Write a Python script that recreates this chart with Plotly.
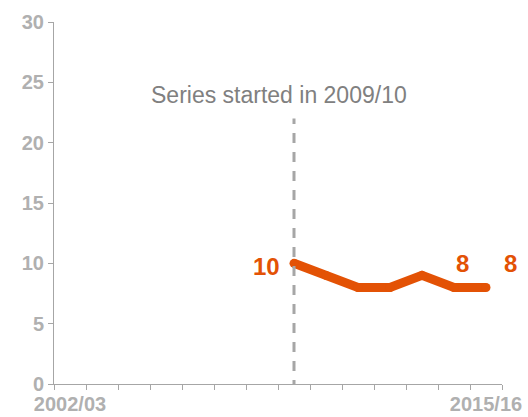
import plotly.graph_objects as go

categories = ["2002/03", "2003/04", "2004/05", "2005/06", "2006/07", "2007/08", "2008/09",
              "2009/10", "2010/11", "2011/12", "2012/13", "2013/14", "2014/15", "2015/16"]
values = [None, None, None, None, None, None, None, 10, 9, 8, 8, 9, 8, 8]
tick_text = ["2002/03"] + [""] * 12 + ["2015/16"]
series_start = "2009/10"
note = "Series started in 2009/10"

ORANGE = "#E35205"
GREY = "#A6A6A6"
LABEL = "#B0B0B0"
FONT = "Liberation Sans, Arial, sans-serif"

fig = go.Figure()
fig.add_trace(go.Scatter(x=categories, y=values, mode="lines+markers",
                         line=dict(color=ORANGE, width=9), connectgaps=False,
                         marker=dict(color=ORANGE, size=9, line=dict(width=0)),
                         hoverinfo="skip"))

fig.add_shape(type="line", xref="x", yref="y", x0=series_start, x1=series_start,
              y0=-0.5, y1=22.0, line=dict(color=GREY, width=3, dash="10px,9px"))

fig.add_annotation(x=series_start, y=23.95, text=note, showarrow=False, xref="x", yref="y",
                   xshift=-15, font=dict(family=FONT, size=23, color="#808080"))

# data labels
fig.add_annotation(x=categories[7], y=values[7], text="<b>10</b>", showarrow=False,
                   xanchor="right", xshift=-12, yshift=-3,
                   font=dict(family=FONT, size=24, color=ORANGE))
fig.add_annotation(x=categories[12], y=values[12], text="<b>8</b>", showarrow=False,
                   xshift=8, yshift=24,
                   font=dict(family=FONT, size=24, color=ORANGE))
fig.add_annotation(x=categories[13], y=values[13], text="<b>8</b>", showarrow=False,
                   xshift=24, yshift=24,
                   font=dict(family=FONT, size=24, color=ORANGE))

fig.update_layout(
    width=528, height=417,
    margin=dict(l=54, r=26, t=22, b=33, autoexpand=False),
    paper_bgcolor="white", plot_bgcolor="white",
    showlegend=False,
    font=dict(family=FONT),
    xaxis=dict(type="category", categoryorder="array", categoryarray=categories,
               range=[-0.5, 13.5], tickvals=categories, ticktext=tick_text,
               tickson="boundaries", ticks="outside", ticklen=5, tickcolor=GREY,
               tickangle=0, automargin=False, ticklabelstandoff=2,
               showline=True, linecolor=GREY, linewidth=1, showgrid=False,
               tickfont=dict(family=FONT, size=20, color=LABEL, weight="bold"),
               zeroline=False),
    yaxis=dict(range=[0, 30], tickvals=[0, 5, 10, 15, 20, 25, 30], ticks="outside",
               ticklen=5, tickcolor=GREY, showline=True, linecolor=GREY, linewidth=1,
               showgrid=False, zeroline=False, automargin=False,
               tickfont=dict(family=FONT, size=20, color=LABEL, weight="bold")),
)

fig.write_html("out.html", config={"displayModeBar": False},
               post_script="document.body.style.margin='0';document.body.style.overflow='hidden';")
